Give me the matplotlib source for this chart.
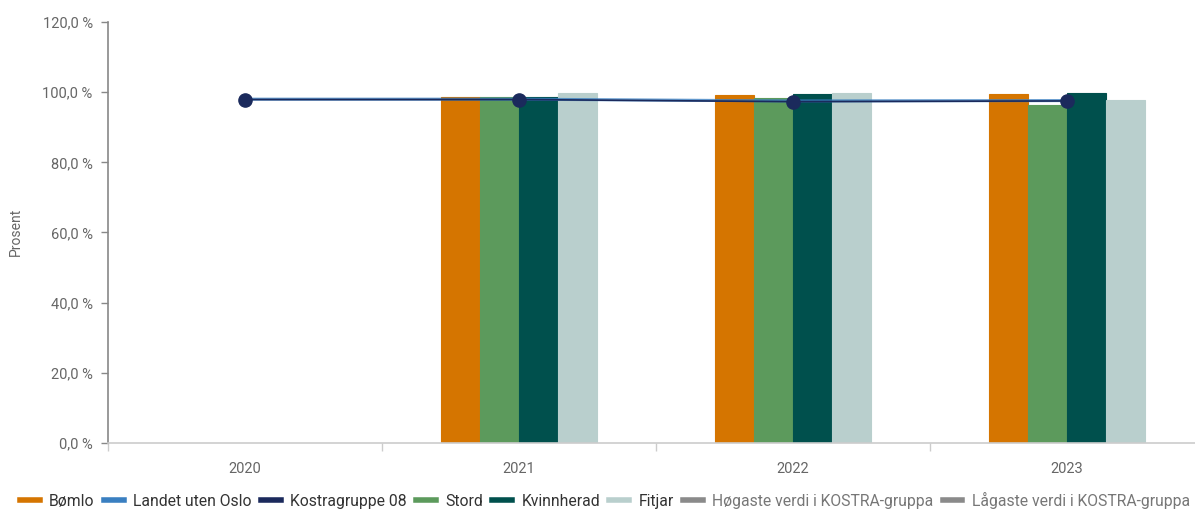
import matplotlib
matplotlib.use("Agg")
import matplotlib.pyplot as plt
from matplotlib.lines import Line2D
import numpy as np

plt.rcParams['font.family'] = ['Roboto', 'DejaVu Sans']

years = ["2020", "2021", "2022", "2023"]
bar_series = ["Bømlo", "Stord", "Kvinnherad", "Fitjar"]
bomlo = [np.nan, 98.7, 99.1, 99.5]
stord = [np.nan, 98.7, 98.3, 96.4]
kvinnherad = [np.nan, 98.7, 99.4, 99.9]
fitjar = [np.nan, 99.8, 99.9, 97.9]
landet = [98.0, 98.0, 97.5, 97.6]
kostra08 = [97.9, 97.9, 97.3, 97.5]
y_ticks = [0, 20, 40, 60, 80, 100, 120]

c_bomlo = "#d57500"
c_landet = "#3a7fc1"
c_kostra = "#1b2a5c"
c_stord = "#5c9a5c"
c_kvinn = "#00504d"
c_fitjar = "#b9cfcd"
c_grey = "#8a8a8a"

fig = plt.figure(figsize=(11.95, 5.11), dpi=100)
left = 108 / 1195
right_px = 1204
bottom = 1 - 443 / 511
top = 1 - 22 / 511
ax = fig.add_axes([left, bottom, (right_px - 108) / 1195, top - bottom])

x = np.arange(len(years))
w = 0.143
bar_data = [(bomlo, c_bomlo), (stord, c_stord), (kvinnherad, c_kvinn), (fitjar, c_fitjar)]
for i, (vals, col) in enumerate(bar_data):
    ax.bar(x + (i - 1.5) * w, vals, width=w, color=col, edgecolor=col,
           linewidth=0.8, alpha=1.0, zorder=2)

ax.plot(x, landet, color=c_landet, lw=2.2, zorder=3, alpha=0.8)
ax.plot(x, kostra08, color=c_kostra, lw=1.2, zorder=4, marker='o', markersize=9.5,
        markerfacecolor=c_kostra, markeredgecolor=c_kostra)

ax.set_xlim(-0.5, 3.5)
ax.set_ylim(0, 120)
ax.set_yticks(y_ticks)
ax.set_yticklabels([f"{v},0 %" for v in y_ticks])
ax.set_xticks(x)
ax.set_xticklabels(years)
ax.set_xticks(np.arange(-0.5, 3.6, 1.0), minor=True)
ax.tick_params(axis='x', which='major', length=0, pad=14, labelsize=10.5, labelcolor='#666666')
ax.tick_params(axis='x', which='minor', length=6, color='#cccccc', width=1)
ax.tick_params(axis='y', length=5, color='#888888', width=1, labelsize=10.5,
               labelcolor='#666666', pad=6)

for s in ['top', 'right']:
    ax.spines[s].set_visible(False)
ax.spines['left'].set_color('#888888')
ax.spines['left'].set_linewidth(1.2)
ax.spines['bottom'].set_color('#cccccc')
ax.spines['bottom'].set_linewidth(1.2)

fig.text(16 / 1195, 1 - 232 / 511, "Prosent", rotation=90, ha='center', va='center',
         fontsize=10, color='#666666')

labels = ["Bømlo", "Landet uten Oslo", "Kostragruppe 08", "Stord", "Kvinnherad", "Fitjar",
          "Høgaste verdi i KOSTRA-gruppa", "Lågaste verdi i KOSTRA-gruppa"]
colors = [c_bomlo, c_landet, c_kostra, c_stord, c_kvinn, c_fitjar, c_grey, c_grey]
handles = [Line2D([0], [0], color=c, lw=4) for c in colors]
leg = fig.legend(handles, labels, loc='center', bbox_to_anchor=(605 / 1195, 1 - 500 / 511),
                 ncol=8, frameon=False, fontsize=11.3, handlelength=1.25,
                 handletextpad=0.6, columnspacing=0.6, borderaxespad=0)
for i, t in enumerate(leg.get_texts()):
    t.set_color('#333333' if i < 6 else '#777777')

fig.savefig("out.png", dpi=100)
